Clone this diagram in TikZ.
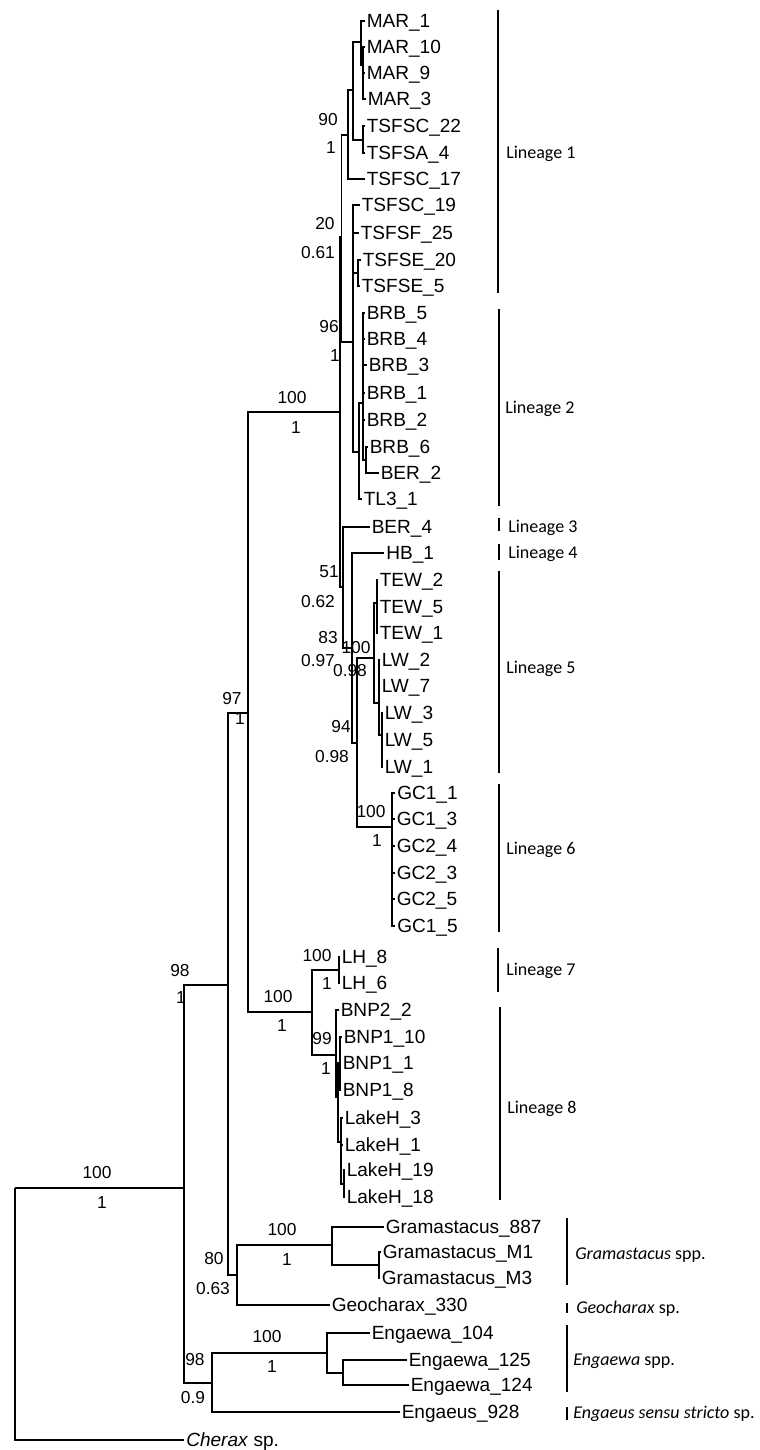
\documentclass[tikz,border=0pt]{standalone}
\usepackage{fontspec}
\setmainfont{Liberation Sans}
\newfontfamily\calib{Carlito}
\begin{document}
\begin{tikzpicture}[x=0.75pt,y=-0.75pt,
  tree/.style={line width=1.05pt},
  bar/.style={line width=1.3pt},
  leaf/.style={anchor=west, inner xsep=1.5pt, inner ysep=0pt, text height=10.2pt, text depth=0pt, font=\fontsize{14.3}{16}\selectfont},
  sup/.style={inner sep=0pt, text height=9.3pt, text depth=0pt, font=\fontsize{13}{15}\selectfont},
  lin/.style={anchor=west, inner sep=0pt, text height=8.7pt, text depth=0pt, font=\calib\fontsize{13.5}{16}\selectfont}]
\useasboundingbox (0,0) rectangle (760,1450);
% internal nodes
\coordinate (root) at (15,1188);
\coordinate (ning) at (184,1188);
\coordinate (nx) at (228,985);
\coordinate (n97) at (248,713);
\coordinate (n100) at (340,412);
\coordinate (n20) at (341.5,237);
\coordinate (n90) at (348,135);
\coordinate (nmt) at (353,90);
\coordinate (nmar) at (361,42);
\coordinate (nmar2) at (363,65);
\coordinate (nts) at (363,140);
\coordinate (n96) at (353,342);
\coordinate (ntse) at (358,273);
\coordinate (nl2) at (359,452);
\coordinate (nbrb) at (363,403);
\coordinate (nber) at (366,460);
\coordinate (n51) at (343,587);
\coordinate (n83) at (352,648);
\coordinate (n94) at (357,743);
\coordinate (n100b) at (374,658);
\coordinate (ntew) at (377,603);
\coordinate (nlw) at (379,703);
\coordinate (nlw2) at (382,735);
\coordinate (ngc) at (392,827);
\coordinate (n100c) at (312,1012);
\coordinate (nlh) at (339,970);
\coordinate (nbl) at (336,1055);
\coordinate (nbl2) at (338,1097);
\coordinate (nbnp) at (340,1063);
\coordinate (nlake) at (341,1142);
\coordinate (nlk2) at (344,1184);
\coordinate (n80) at (237,1275);
\coordinate (ngram) at (332,1245);
\coordinate (ngm) at (379,1265);
\coordinate (n98b) at (212,1383);
\coordinate (nengw) at (327,1353);
\coordinate (nen2) at (343,1373);
% leaves
\node[leaf] (mar1) at (364.5,21) {MAR\_1};
\node[leaf] (mar10) at (364.5,47) {MAR\_10};
\node[leaf] (mar9) at (364.5,73) {MAR\_9};
\node[leaf] (mar3) at (365.5,99) {MAR\_3};
\node[leaf] (tsfsc22) at (364.5,126) {TSFSC\_22};
\node[leaf] (tsfsa4) at (364.5,153) {TSFSA\_4};
\node[leaf] (tsfsc17) at (364.5,179) {TSFSC\_17};
\node[leaf] (tsfsc19) at (359.5,205) {TSFSC\_19};
\node[leaf] (tsfsf25) at (358.5,233) {TSFSF\_25};
\node[leaf] (tsfse20) at (360.5,260) {TSFSE\_20};
\node[leaf] (tsfse5) at (359.5,286) {TSFSE\_5};
\node[leaf] (brb5) at (364.5,313) {BRB\_5};
\node[leaf] (brb4) at (364.5,339) {BRB\_4};
\node[leaf] (brb3) at (366.5,365) {BRB\_3};
\node[leaf] (brb1) at (364.5,393) {BRB\_1};
\node[leaf] (brb2) at (364.5,420) {BRB\_2};
\node[leaf] (brb6) at (367.5,447) {BRB\_6};
\node[leaf] (ber2) at (378.5,473) {BER\_2};
\node[leaf] (tl31) at (361.5,499) {TL3\_1};
\node[leaf] (ber4) at (369.5,527) {BER\_4};
\node[leaf] (hb1) at (384,553) {HB\_1};
\node[leaf] (tew2) at (377.5,580) {TEW\_2};
\node[leaf] (tew5) at (377.5,607) {TEW\_5};
\node[leaf] (tew1) at (377.5,633) {TEW\_1};
\node[leaf] (lw2) at (379.5,660) {LW\_2};
\node[leaf] (lw7) at (379.5,686) {LW\_7};
\node[leaf] (lw3) at (382.5,713) {LW\_3};
\node[leaf] (lw5) at (382.5,740) {LW\_5};
\node[leaf] (lw1) at (382.5,767) {LW\_1};
\node[leaf] (gc11) at (395,793) {GC1\_1};
\node[leaf] (gc13) at (394.5,819) {GC1\_3};
\node[leaf] (gc24) at (394.5,846) {GC2\_4};
\node[leaf] (gc23) at (394.5,873) {GC2\_3};
\node[leaf] (gc25) at (394.5,899) {GC2\_5};
\node[leaf] (gc15) at (395,926) {GC1\_5};
\node[leaf] (lh8) at (339.5,957) {LH\_8};
\node[leaf] (lh6) at (339.5,983) {LH\_6};
\node[leaf] (bnp22) at (338.5,1010) {BNP2\_2};
\node[leaf] (bnp110) at (341.5,1037) {BNP1\_10};
\node[leaf] (bnp11) at (340.5,1063) {BNP1\_1};
\node[leaf] (bnp18) at (340.5,1090) {BNP1\_8};
\node[leaf] (lakeh3) at (342.5,1118) {LakeH\_3};
\node[leaf] (lakeh1) at (342.5,1145) {LakeH\_1};
\node[leaf] (lakeh19) at (344.5,1170) {LakeH\_19};
\node[leaf] (lakeh18) at (344.5,1197) {LakeH\_18};
\node[leaf] (gram887) at (383.5,1227) {Gramastacus\_887};
\node[leaf] (gramm1) at (380.5,1252) {Gramastacus\_M1};
\node[leaf] (gramm3) at (379.5,1278) {Gramastacus\_M3};
\node[leaf] (geo) at (329.5,1305) {Geocharax\_330};
\node[leaf] (eng104) at (369.5,1333) {Engaewa\_104};
\node[leaf] (eng125) at (406.5,1360) {Engaewa\_125};
\node[leaf] (eng124) at (408.5,1385) {Engaewa\_124};
\node[leaf] (engaeus) at (399.5,1412) {Engaeus\_928};
\node[leaf] (cherax) at (184,1440) {\textit{Cherax} sp.};
% branches
\foreach \p/\c in {root/ning, root/cherax, ning/nx, ning/n98b, nx/n97, nx/n80,
  n97/n100, n97/n100c, n100/n20, n100/n51, n20/n90, n20/n96,
  n90/nmt, n90/tsfsc17, nmt/nmar, nmt/nts, nmar/mar1, nmar/nmar2,
  nmar2/mar10, nmar2/mar9, nmar2/mar3, nts/tsfsc22, nts/tsfsa4,
  n96/tsfsc19, n96/tsfsf25, n96/ntse, n96/nl2, ntse/tsfse20, ntse/tsfse5,
  nl2/nbrb, nl2/tl31, nbrb/brb5, nbrb/brb4, nbrb/brb3, nbrb/brb1, nbrb/brb2, nbrb/nber,
  nber/brb6, nber/ber2, n51/ber4, n51/n83, n83/hb1, n83/n94, n94/n100b, n94/ngc,
  n100b/ntew, n100b/nlw, ntew/tew2, ntew/tew5, ntew/tew1,
  nlw/lw2, nlw/lw7, nlw/nlw2, nlw2/lw3, nlw2/lw5, nlw2/lw1,
  ngc/gc11, ngc/gc13, ngc/gc24, ngc/gc23, ngc/gc25, ngc/gc15,
  n100c/nlh, n100c/nbl, nlh/lh8, nlh/lh6, nbl/bnp22, nbl/nbl2,
  nbl2/nbnp, nbl2/nlake, nbnp/bnp110, nbnp/bnp11, nbnp/bnp18,
  nlake/lakeh3, nlake/lakeh1, nlake/nlk2, nlk2/lakeh19, nlk2/lakeh18,
  n80/ngram, n80/geo, ngram/gram887, ngram/ngm, ngm/gramm1, ngm/gramm3,
  n98b/nengw, n98b/engaeus, nengw/eng104, nengw/nen2, nen2/eng125, nen2/eng124}
  \draw[tree] (\p) |- (\c);
% support values
\node[sup] (s90a) at (328,119) {90};
\node[sup] (s90b) at (331,147) {1};
\node[sup] (s20a) at (325,223) {20};
\node[sup] (s20b) at (318,252) {0.61};
\node[sup] (s96a) at (329,326) {96};
\node[sup] (s96b) at (335,355) {1};
\node[sup] (s100a) at (292,397) {100};
\node[sup] (s100b) at (296,427) {1};
\node[sup] (s51a) at (329,571) {51};
\node[sup] (s51b) at (318,601) {0.62};
\node[sup] (s83a) at (328,637) {83};
\node[sup] (s83b) at (318,660) {0.97};
\node[sup] (s100ba) at (356,647) {100};
\node[sup] (s100bb) at (350,670) {0.98};
\node[sup] (s94a) at (341,726) {94};
\node[sup] (s94b) at (332,756) {0.98};
\node[sup] (s97a) at (232,698) {97};
\node[sup] (s97b) at (240,718) {1};
\node[sup] (sgca) at (371,811) {100};
\node[sup] (sgcb) at (377,840) {1};
\node[sup] (slha) at (317,955) {100};
\node[sup] (slhb) at (327,983) {1};
\node[sup] (s78a) at (278,996) {100};
\node[sup] (s78b) at (282,1025) {1};
\node[sup] (s99a) at (322,1038) {99};
\node[sup] (s99b) at (326,1068) {1};
\node[sup] (s98a) at (180,970) {98};
\node[sup] (s98b) at (181,997) {1};
\node[sup] (sra) at (97,1172) {100};
\node[sup] (srb) at (102,1202) {1};
\node[sup] (s80a) at (214,1258) {80};
\node[sup] (s80b) at (213,1288) {0.63};
\node[sup] (sgra) at (282,1229) {100};
\node[sup] (sgrb) at (287,1259) {1};
\node[sup] (s98ba) at (195,1359) {98};
\node[sup] (s98bb) at (193,1397) {0.9};
\node[sup] (sena) at (267,1336) {100};
\node[sup] (senb) at (272,1366) {1};
% lineage bars
\foreach \n/\x/\ya/\yb in {l1/498/10/293, l2/499/309/506, l3/499/518/531, l4/499/544/560,
  l5/499/571/773, l6/499/784/932, l7/498/948/992, l8/500/1007/1200,
  gr/567/1218/1285, ge/567/1303/1313, ew/567/1325/1392, es/567/1407/1420}
  {\coordinate (\n top) at (\x,\ya); \coordinate (\n bot) at (\x,\yb);
   \draw[bar] (\n top) -- (\n bot);}
\node[lin] (t1) at (506,153) {Lineage 1};
\node[lin] (t2) at (505,408) {Lineage 2};
\node[lin] (t3) at (508,527) {Lineage 3};
\node[lin] (t4) at (508,553) {Lineage 4};
\node[lin] (t5) at (506,668) {Lineage 5};
\node[lin] (t6) at (506,849) {Lineage 6};
\node[lin] (t7) at (506,970) {Lineage 7};
\node[lin] (t8) at (507,1108) {Lineage 8};
\node[lin] (tgr) at (575,1254) {\textit{Gramastacus} spp.};
\node[lin] (tge) at (576,1308) {\textit{Geocharax} sp.};
\node[lin] (tew) at (573,1360) {\textit{Engaewa} spp.};
\node[lin] (tes) at (573,1413) {\textit{Engaeus sensu stricto} sp.};
\end{tikzpicture}
\end{document}
